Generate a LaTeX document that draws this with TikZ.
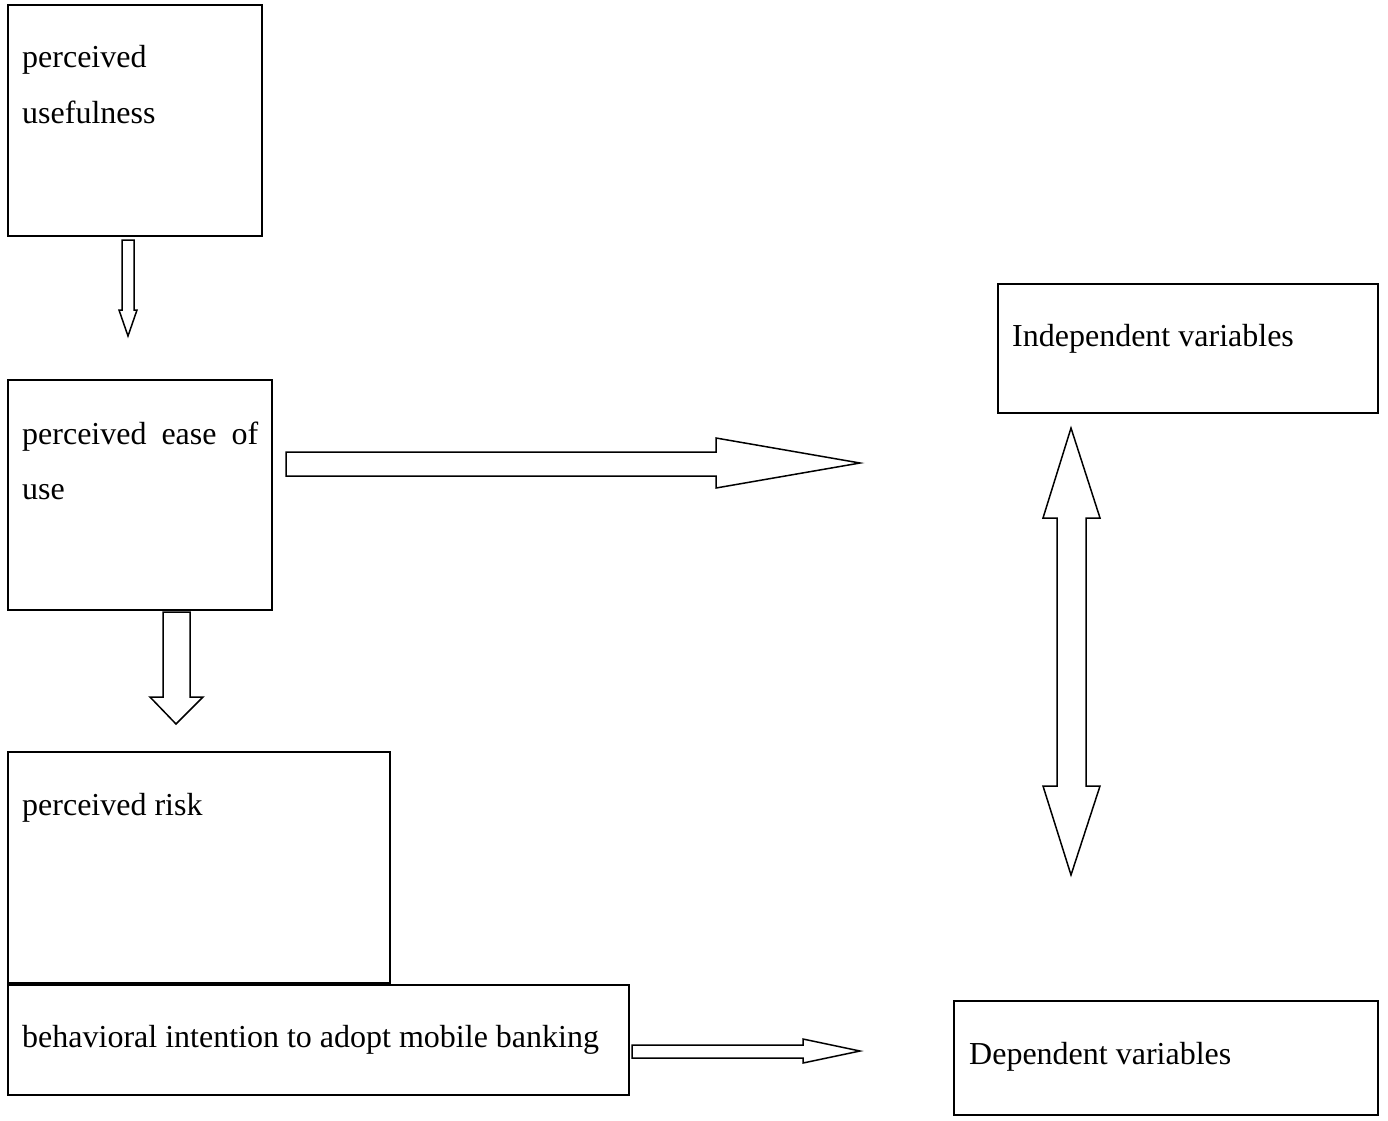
\documentclass[tikz,border=0pt]{standalone}
\usepackage{fontspec}
\setmainfont{Liberation Serif}
\begin{document}
\begin{tikzpicture}[x=1pt,y=-1pt,
  box/.style={draw=black,line width=2.2pt,fill=none},
  blockarrow/.style={draw=black,line width=1.5pt,fill=white,line join=miter},
  lbl/.style={anchor=base west,inner sep=0pt,font=\fontsize{32pt}{38pt}\selectfont}]
\useasboundingbox[fill=white] (0,0) rectangle (1388,1120);
% boxes
\draw[box] (8,5) rectangle (262,236) coordinate (b1);
\draw[box] (8,380) rectangle (272,610) coordinate (b2);
\draw[box] (8,752) rectangle (390,983) coordinate (b3);
\draw[box] (8,985) rectangle (629,1095) coordinate (b4);
\draw[box] (998,284) rectangle (1378,413) coordinate (b5);
\draw[box] (954,1001) rectangle (1378,1115) coordinate (b6);
% texts
\node[lbl] (t1a) at (22,67) {perceived};
\node[lbl] (t1b) at (22,123) {usefulness};
\node[lbl] (t2a) at (22,444) {\makebox[236pt][s]{perceived ease of}};
\node[lbl] (t2b) at (22,499) {use};
\node[lbl] (t3) at (22,815) {perceived risk};
\node[lbl] (t4) at (22,1047) {behavioral intention to adopt mobile banking};
\node[lbl] (t5) at (1012,346) {Independent variables};
\node[lbl] (t6) at (969,1064) {Dependent variables};
% block arrows
\draw[blockarrow] (122,240) -- (134,240) -- (134,310) -- (137,310) -- (128,336) -- (119,310) -- (122,310) -- cycle;
\draw[blockarrow] (163,612) -- (190,612) -- (190,697) -- (203,697) -- (176,724) -- (150,697) -- (163,697) -- cycle;
\draw[blockarrow] (286,452) -- (716,452) -- (716,438) -- (860,463) -- (716,488) -- (716,476) -- (286,476) -- cycle;
\draw[blockarrow] (632,1045) -- (803,1045) -- (803,1039) -- (860,1051) -- (803,1063) -- (803,1058) -- (632,1058) -- cycle;
\draw[blockarrow] (1071,428) -- (1100,518) -- (1086,518) -- (1086,786) -- (1100,786) -- (1071,875) -- (1043,786) -- (1057,786) -- (1057,518) -- (1043,518) -- cycle;
\end{tikzpicture}
\end{document}
